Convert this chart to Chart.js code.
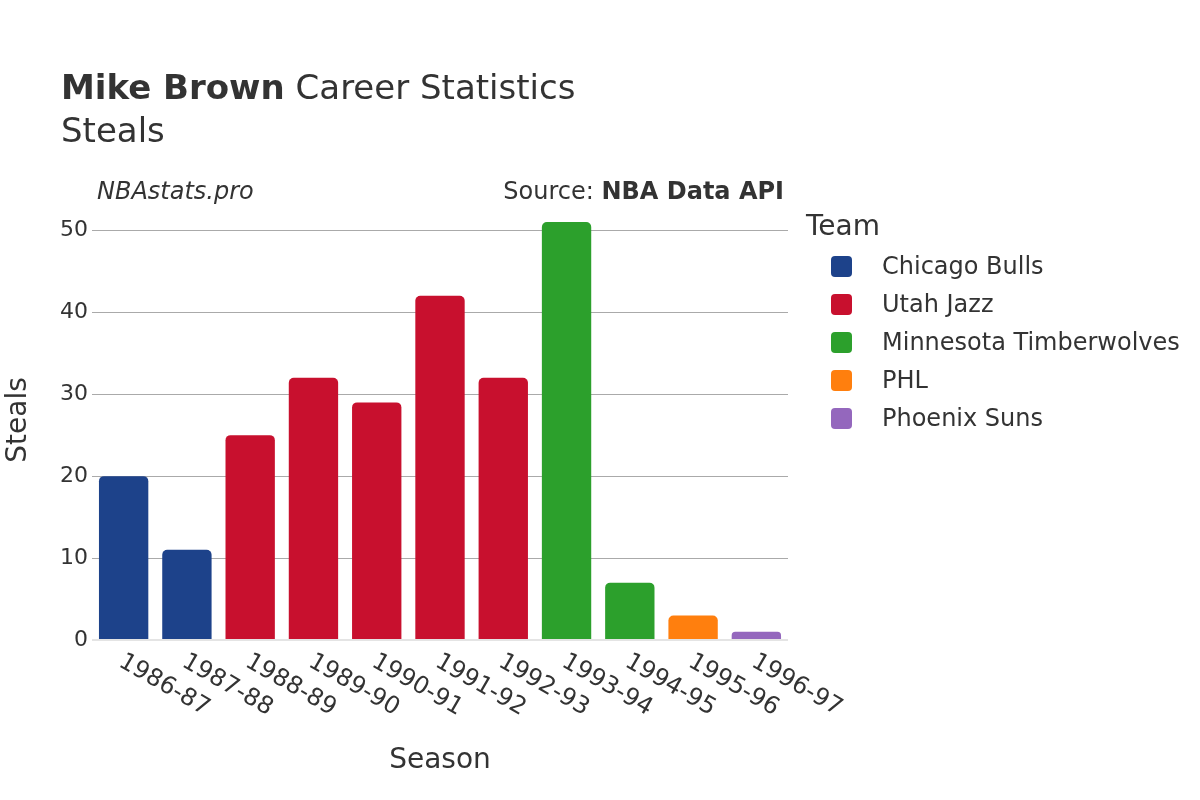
<!DOCTYPE html>
<html>
<head>
<meta charset="utf-8">
<script src="https://cdn.jsdelivr.net/npm/chart.js@4"></script>
<style>
  body { margin: 0; background: #fff; font-family: "DejaVu Sans", sans-serif; color: #333; }
  #wrap { position: relative; width: 1200px; height: 800px; }
  #chart { position: absolute; left: 0; top: 0; }
  .txt { position: absolute; white-space: nowrap; }
  #title { left: 61px; top: 66px; font-size: 34px; line-height: 43px; color: #333; }
  #site { left: 97px; top: 177px; font-size: 24px; font-style: italic; color: #333; }
  #source { right: 416px; top: 177px; font-size: 24px; color: #333; }
  #legend { left: 806px; top: 209px; }
  #legend .head { font-size: 28px; color: #333; margin-bottom: 10px; }
  #legend .item { position: relative; height: 38px; font-size: 24px; color: #333; }
  #legend .box { position: absolute; left: 25px; top: 4px; width: 21px; height: 21px; border-radius: 4px; }
  #legend .lab { position: absolute; left: 76px; top: 0; line-height: 29px; }
</style>
</head>
<body>
<div id="wrap">
  <canvas id="chart" width="1200" height="800"></canvas>
  <div class="txt" id="title"><b>Mike Brown</b> Career Statistics<br>Steals</div>
  <div class="txt" id="site">NBAstats.pro</div>
  <div class="txt" id="source">Source: <b>NBA Data API</b></div>
  <div class="txt" id="legend"></div>
</div>
<script>
// ---- data ----
var seasons = ['1986-87','1987-88','1988-89','1989-90','1990-91','1991-92','1992-93','1993-94','1994-95','1995-96','1996-97'];
var steals  = [20, 11, 25, 32, 29, 42, 32, 51, 7, 3, 1];
var seasonTeam = ['Chicago Bulls','Chicago Bulls','Utah Jazz','Utah Jazz','Utah Jazz','Utah Jazz','Utah Jazz',
                  'Minnesota Timberwolves','Minnesota Timberwolves','PHL','Phoenix Suns'];
var teams  = ['Chicago Bulls','Utah Jazz','Minnesota Timberwolves','PHL','Phoenix Suns'];
var colors = ['#1d428a','#c8102e','#2ca02c','#ff7f0e','#9467bd'];

// one dataset per team, null where another team played
var datasets = teams.map(function(team, t){
  return {
    label: team,
    data: steals.map(function(v, i){ return seasonTeam[i] == team ? v : null; }),
    backgroundColor: colors[t],
    borderRadius: 5,
    borderSkipped: 'start',
    barPercentage: 0.78,
    categoryPercentage: 1.0
  };
});

// html legend
var legend = document.getElementById('legend');
var html = '<div class="head">Team</div>';
teams.forEach(function(team, t){
  html += '<div class="item"><span class="box" style="background:' + colors[t] + '"></span><span class="lab">' + team + '</span></div>';
});
legend.innerHTML = html;

// x labels drawn turned clockwise, like the reference
var slantLabels = {
  id: 'slantLabels',
  afterDraw: function(chart){
    var ctx = chart.ctx, xs = chart.scales.x;
    ctx.save();
    ctx.font = '24px "DejaVu Sans"';
    ctx.fillStyle = '#333';
    ctx.textAlign = 'left';
    ctx.textBaseline = 'middle';
    seasons.forEach(function(s, i){
      var x = xs.getPixelForValue(i);
      ctx.save();
      ctx.translate(x - 3, chart.chartArea.bottom + 20);
      ctx.rotate(Math.PI / 6);
      ctx.fillText(s, 0, 0);
      ctx.restore();
    });
    ctx.restore();
  }
};

var ctx = document.getElementById('chart').getContext('2d');
var chart = new Chart(ctx, {
  type: 'bar',
  data: { labels: seasons, datasets: datasets },
  options: {
    responsive: false,
    animation: false,
    layout: { padding: { left: 0, top: 200, right: 412, bottom: 0 } },
    plugins: { legend: { display: false }, tooltip: { enabled: false } },
    scales: {
      x: {
        stacked: true,
        grid: { display: false },
        border: { display: false },
        ticks: { display: false },
        title: { display: true, text: 'Season', color: '#333',
                 font: { family: 'DejaVu Sans', size: 28 }, padding: { top: 0, bottom: 22 } },
        afterFit: function(scale){ scale.height = 160; }
      },
      y: {
        stacked: true,
        min: 0,
        max: 53.7,
        border: { display: false },
        grid: {
          drawTicks: false,
          color: function(c){ return c.tick && c.tick.value === 0 ? '#e4e4e4' : '#aaaaaa'; },
          lineWidth: function(c){ return c.tick && c.tick.value === 0 ? 2 : 1; }
        },
        ticks: { stepSize: 10, padding: 4, color: '#333', font: { family: 'DejaVu Sans', size: 22 } },
        afterBuildTicks: function(scale){
          scale.ticks = scale.ticks.filter(function(t){ return t.value % 10 === 0; });
        },
        title: { display: true, text: 'Steals', color: '#333',
                 font: { family: 'DejaVu Sans', size: 28 }, padding: { top: 2, bottom: 0 } },
        afterFit: function(scale){ scale.width = 92; }
      }
    }
  },
  plugins: [slantLabels]
});
</script>
</body>
</html>
